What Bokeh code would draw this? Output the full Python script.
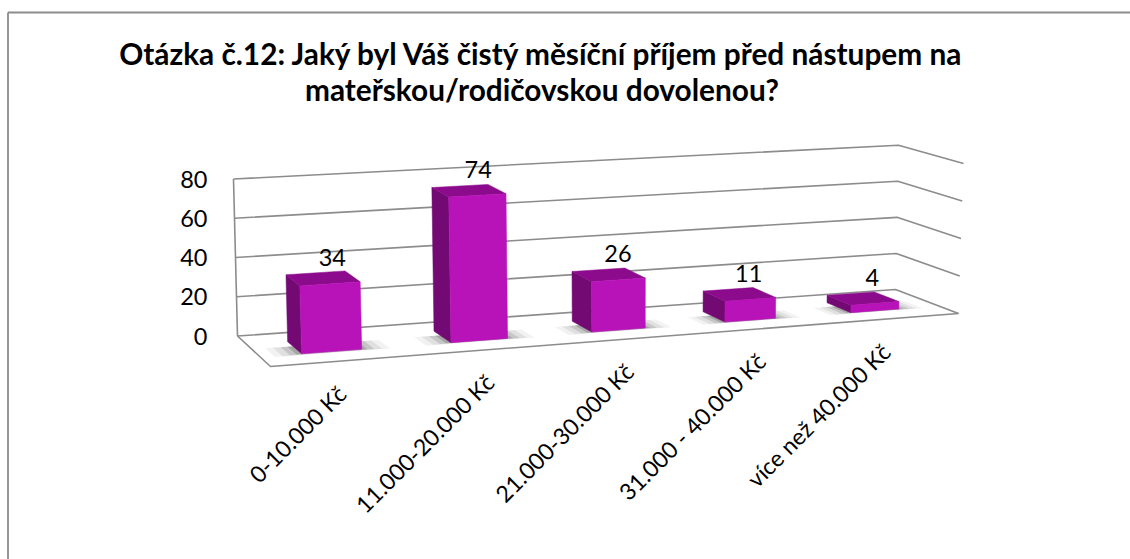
import numpy as np
from bokeh.core.properties import value
from bokeh.embed import file_html
from bokeh.models import FixedTicker, Range1d
from bokeh.plotting import figure
from bokeh.resources import INLINE

categories = ["0-10.000 Kč", "11.000-20.000 Kč", "21.000-30.000 Kč", "31.000 - 40.000 Kč", "více než 40.000 Kč"]
values = [34, 74, 26, 11, 4]
y_ticks = [0, 20, 40, 60, 80]
title_lines = ["Otázka č.12: Jaký byl Váš čistý měsíční příjem před nástupem na",
               "mateřskou/rodičovskou dovolenou?"]

W, H = 1130, 559
Y0, PX_PER = 335.5, 1.9625  # page y of value 0, px per value unit on the left wall
YMAX = 80


def vy(py):
    return (Y0 - np.asarray(py, float)) / PX_PER


# floor quad on the page: (u, d) with u 0..1 left to right, d 0 front .. 1 back
src = [(0, 1), (1, 1), (0, 0), (1, 0)]
dst = [(237, 335.5), (895, 289), (270, 366), (958, 313)]
A = []
b = []
for (u, d), (x, y) in zip(src, dst):
    A.append([u, d, 1, 0, 0, 0, -u * x, -d * x]); b.append(x)
    A.append([0, 0, 0, u, d, 1, -u * y, -d * y]); b.append(y)
h = np.linalg.solve(np.array(A, float), np.array(b, float))


def floor(u, d):
    w = h[6] * u + h[7] * d + 1
    return (h[0] * u + h[1] * d + h[2]) / w, (h[3] * u + h[4] * d + h[5]) / w


# pixel vector for one value unit at each floor corner (dx, dy)
UP = {(0, 1): (-4 / 80, -157 / 80), (1, 1): (3 / 80, -144.3 / 80),
      (0, 0): (-5 / 80, -162 / 80), (1, 0): (5 / 80, -150 / 80)}


def P(u, d, v):
    x, y = floor(u, d)
    dx = sum(UP[k][0] * (u if k[0] else 1 - u) * (d if k[1] else 1 - d) for k in UP)
    dy = sum(UP[k][1] * (u if k[0] else 1 - u) * (d if k[1] else 1 - d) for k in UP)
    return x + dx * v, float(vy(y + dy * v))


p = figure(width=W, height=H, output_backend="svg", toolbar_location=None,
           x_range=Range1d(0, W),
           y_range=Range1d(float(vy(H)), float(vy(0))),
           min_border=0, outline_line_color=None, background_fill_color="white")
p.grid.visible = False
p.xaxis.visible = False

# outer frame
GRAY = "#8C8C8C"
p.line([7.5, 7.5], [float(vy(12)), float(vy(H))], line_color="#969696", line_width=2)
p.line([7.5, W], [float(vy(12)), float(vy(12))], line_color="#8C8C8C", line_width=2)

# walls + floor
for t in y_ticks:
    a, c, e = P(0, 1, t), P(1, 1, t), P(1, 0, t)
    p.line([a[0], c[0], e[0]], [a[1], c[1], e[1]], line_color=GRAY, line_width=1.6)
a, c = P(0, 1, 0), P(0, 1, YMAX)
p.line([a[0], c[0]], [a[1], c[1]], line_color=GRAY, line_width=1.6)
fl, fr, bl = P(0, 0, 0), P(1, 0, 0), P(0, 1, 0)
p.line([bl[0], fl[0], fr[0]], [bl[1], fl[1], fr[1]], line_color=GRAY, line_width=1.6)

BW = 0.079
SHIFT = -0.007
D0, D1 = 0.3, 0.7
n = len(values)

# soft shadows on the floor
for i in range(n):
    uc = (i + 0.5) / n + SHIFT
    for grow, alpha in ((0.036, 0.07), (0.026, 0.10), (0.016, 0.16), (0.007, 0.24)):
        us = [uc - BW / 2 - grow, uc + BW / 2 + grow, uc + BW / 2 + grow, uc - BW / 2 - grow]
        ds = [D1 - .15, D1 - .15, D0 - grow * 1.0, D0 - grow * 1.0]
        pts = [P(u, d, 0) for u, d in zip(us, ds)]
        p.patch([q[0] for q in pts], [q[1] for q in pts], fill_color="#404040", fill_alpha=alpha, line_color=None)

FRONT, SIDE, TOP = "#B813B8", "#730A73", "#8C0A8C"
for i, v in enumerate(values):
    uc = (i + 0.5) / n + SHIFT
    u0, u1 = uc - BW / 2, uc + BW / 2
    side = [P(u0, D1, 0), P(u0, D0, 0), P(u0, D0, v), P(u0, D1, v)]
    top = [P(u0, D0, v), P(u1, D0, v), P(u1, D1, v), P(u0, D1, v)]
    front = [P(u0, D0, 0), P(u1, D0, 0), P(u1, D0, v), P(u0, D0, v)]
    for poly, col in ((side, SIDE), (top, TOP), (front, FRONT)):
        p.patch([q[0] for q in poly], [q[1] for q in poly], fill_color=col, line_color=col, line_width=0.5)
    cx, cy = P(uc, 0.5, v)
    p.text([cx], [cy], text=[str(v)], x_offset=9.5, y_offset=-21, text_align="center",
           text_baseline="middle", text_font=value("Lato"), text_font_size="23.5px", text_color="black")
    lx, ly = P(u1, 0, 0)
    p.text([lx], [ly], text=[categories[i]], x_offset=-32, y_offset=31, angle=45, angle_units="deg",
           text_align="right", text_baseline="middle", text_font=value("Lato"),
           text_font_size="23px", text_color="black")

# title
for line, py in zip(title_lines, (53, 89)):
    p.text([541.5], [float(vy(py))], text=[line], text_align="center", text_baseline="middle",
           text_font=value("Lato"), text_font_style="bold", text_font_size="29.8px", text_color="black")

# value axis sits on the left wall
ax = p.yaxis[0]
ax.fixed_location = 217
ax.ticker = FixedTicker(ticks=y_ticks)
ax.axis_line_color = None
ax.major_tick_line_color = None
ax.minor_tick_line_color = None
ax.major_label_standoff = 4
ax.major_label_text_font = "Lato"
ax.major_label_text_font_size = "23.5px"
ax.major_label_text_color = "black"

open("out.html", "w").write(file_html(p, INLINE))
